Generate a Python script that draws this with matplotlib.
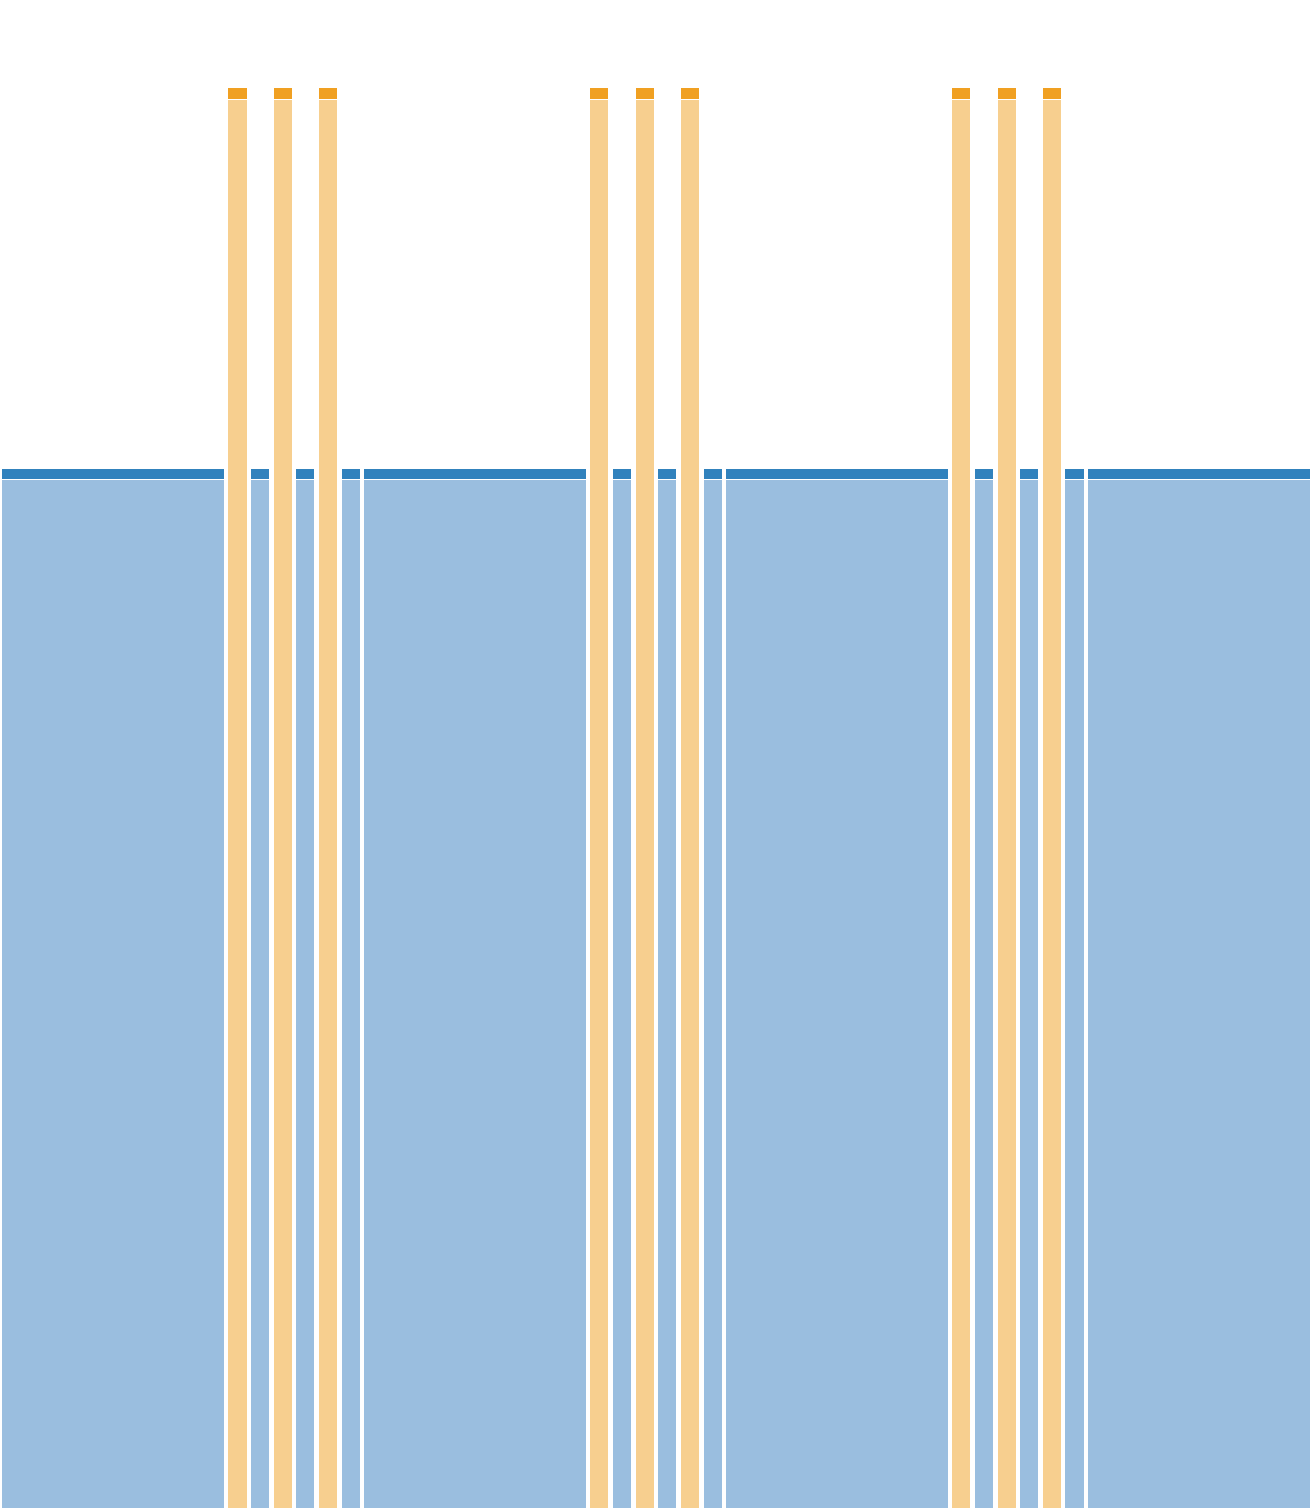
import numpy as np
import matplotlib
matplotlib.use("Agg")
import matplotlib.pyplot as plt

# === Data ===
# band widths (in slot units) and which series each band belongs to
band_width = [10, 1, 1, 1, 1, 1, 1,
              10, 1, 1, 1, 1, 1, 1,
              10, 1, 1, 1, 1, 1, 1,
              10]
band_series = ['blue', 'orange', 'blue', 'orange', 'blue', 'orange', 'blue',
               'blue', 'orange', 'blue', 'orange', 'blue', 'orange', 'blue',
               'blue', 'orange', 'blue', 'orange', 'blue', 'orange', 'blue',
               'blue']
series_value = {'blue': 73.2, 'orange': 100.0}
cap_height = 0.75

# === Style ===
light = {'blue': '#9abedf', 'orange': '#f7cf8f'}
dark = {'blue': '#3182bd', 'orange': '#f0a022'}
pad = 0.1      # white gap on each side of a band (slot units)
cap_gap = 0.07  # white gap between body and cap

fig = plt.figure(figsize=(13.12, 15.08), dpi=100)
ax = fig.add_axes([0, 0, 1, 1])

left = np.concatenate([[0], np.cumsum(band_width)[:-1]])
for x0, w, s in zip(left, band_width, band_series):
    v = series_value[s]
    ax.bar(x0 + pad, v - cap_height - cap_gap, width=w - 2 * pad, align='edge',
           color=light[s], linewidth=0)
    ax.bar(x0 + pad, cap_height, bottom=v - cap_height, width=w - 2 * pad,
           align='edge', color=dark[s], linewidth=0)

ax.set_xlim(0, sum(band_width))
ax.set_ylim(0, 106.2)
ax.axis('off')

fig.savefig('out.png', dpi=100, facecolor='white')
